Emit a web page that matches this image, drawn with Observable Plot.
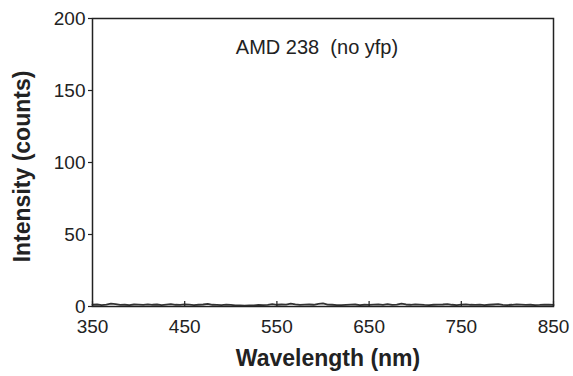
<!DOCTYPE html>
<html>
<head>
<meta charset="utf-8">
<script src="https://cdn.jsdelivr.net/npm/d3@7"></script>
<script src="https://cdn.jsdelivr.net/npm/@observablehq/plot@0.6"></script>
<style>
  html, body { margin: 0; padding: 0; background: #fff; }
  svg { font-family: "Liberation Sans", Arial, sans-serif; }
</style>
</head>
<body>
<div id="chart"></div>
<script>
const wavelengths = d3.range(350, 851, 5);
const intensity = [
  1.2, 1.4, 1.0, 1.3, 2.0, 1.6, 1.1, 1.2, 1.0, 1.4,
  1.3, 1.1, 1.5, 1.2, 1.4, 1.0, 1.3, 1.6, 1.2, 1.1,
  1.5, 1.3, 1.0, 1.2, 1.4, 1.8, 1.2, 1.1, 1.0, 1.3,
  1.1, 0.8, 0.7, 0.6, 0.8, 0.7, 1.1, 0.9, 1.2, 1.6,
  1.2, 1.4, 1.3, 2.0, 1.5, 1.1, 1.3, 1.4, 1.2, 1.8,
  2.1, 1.3, 1.2, 1.0, 0.9, 1.1, 1.3, 1.4, 1.0, 1.2,
  1.1, 1.3, 1.5, 1.2, 1.6, 1.1, 1.3, 2.0, 1.4, 1.2,
  1.5, 1.3, 1.1, 1.0, 1.2, 1.3, 1.4, 1.7, 1.2, 1.0,
  1.3, 1.5, 1.2, 1.1, 1.3, 1.0, 1.2, 1.4, 1.6, 1.1,
  1.0, 1.2, 1.5, 1.3, 1.1, 1.2, 1.0, 1.1, 1.3, 1.2,
  1.1
];
const xTicks = [350, 450, 550, 650, 750, 850];
const yTicks = [0, 50, 100, 150, 200];
const annotation = "AMD 238  (no yfp)";
const xTitle = "Wavelength (nm)";
const yTitle = "Intensity (counts)";

const data = wavelengths.map((w, i) => ({w, v: intensity[i]}));
const ink = "#222";

const chart = Plot.plot({
  width: 573,
  height: 376,
  marginLeft: 92,
  marginRight: 20,
  marginTop: 18,
  marginBottom: 70,
  style: {fontFamily: "'Liberation Sans', Arial, sans-serif", background: "#fff", color: ink},
  x: {domain: [350, 850]},
  y: {domain: [0, 200]},
  marks: [
    Plot.line(data, {x: "w", y: "v", stroke: "#333", strokeWidth: 1.8}),
    Plot.axisX({ticks: xTicks, tickSize: -5, tickFormat: () => "", label: null, stroke: ink, strokeWidth: 1.2}),
    Plot.axisX({ticks: xTicks, tickSize: 0, tickPadding: 13, label: null, fontSize: 19, fill: ink}),
    Plot.axisY({ticks: yTicks, tickSize: 4, tickPadding: 3, label: null, fontSize: 19, fill: ink, stroke: ink, strokeWidth: 1.2}),
    Plot.frame({stroke: ink, strokeWidth: 1.5}),
    Plot.text([annotation], {frameAnchor: "top", lineAnchor: "middle", dx: -6, dy: 29, text: d => d, fontSize: 20, fill: ink}),
    Plot.text([xTitle], {frameAnchor: "bottom", lineAnchor: "middle", dx: 5, dy: 52, text: d => d, fontSize: 23, fontWeight: "bold", fill: ink}),
    Plot.text([yTitle], {frameAnchor: "left", textAnchor: "middle", lineAnchor: "middle", dx: -70, dy: 4, rotate: -90, text: d => d, fontSize: 23, fontWeight: "bold", fill: ink})
  ]
});
document.getElementById("chart").appendChild(chart);
</script>
</body>
</html>
